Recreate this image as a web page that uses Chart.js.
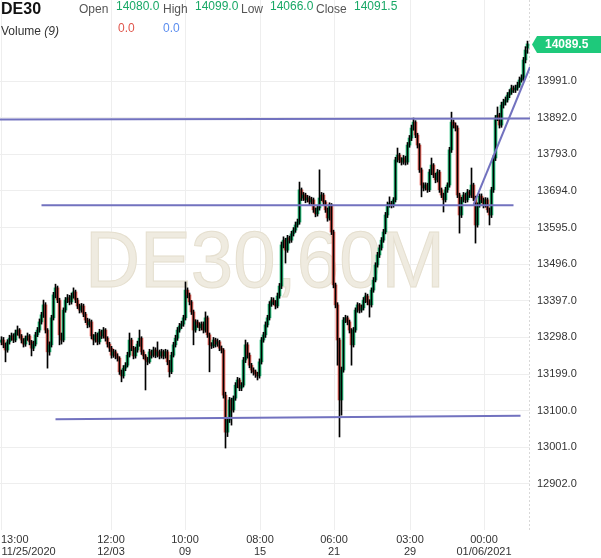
<!DOCTYPE html>
<html>
<head>
<meta charset="utf-8">
<title>DE30 60M</title>
<script src="https://cdn.jsdelivr.net/npm/chart.js@4.4.1/dist/chart.umd.min.js"></script>
<style>
  html, body { margin: 0; padding: 0; background: #fff; }
  #wrap { position: relative; width: 601px; height: 558px; overflow: hidden;
          font-family: Arial, "Liberation Sans", sans-serif; }
  #chart { position: absolute; left: 0; top: 0; }
  .hd { position: absolute; font-size: 12px; line-height: 14px; white-space: nowrap; }
  .lbl { color: #555; }
  .num { color: #18a866; }
</style>
</head>
<body>
<div id="wrap">
  <canvas id="chart" width="601" height="558"></canvas>
  <div class="hd" style="left:1px;top:0px;font-size:16px;line-height:18px;font-weight:bold;color:#111">DE30</div>
  <div class="hd lbl" style="left:79px;top:2px">Open</div>
  <div class="hd num" style="left:116px;top:-1px">14080.0</div>
  <div class="hd lbl" style="left:163px;top:2px">High</div>
  <div class="hd num" style="left:195px;top:-1px">14099.0</div>
  <div class="hd lbl" style="left:241px;top:2px">Low</div>
  <div class="hd num" style="left:270px;top:-1px">14066.0</div>
  <div class="hd lbl" style="left:316px;top:2px">Close</div>
  <div class="hd num" style="left:354px;top:-1px">14091.5</div>
  <div class="hd" style="left:1px;top:24px;color:#333">Volume <i>(9)</i></div>
  <div class="hd" style="left:118px;top:21px;color:#e0564c">0.0</div>
  <div class="hd" style="left:163px;top:21px;color:#5b8def">0.0</div>
</div>

<script>
// ==============================
// DATA (60 min candles, ~2 bars per candle)
// ==============================
const opens = [
  13285,13291,13278,13264,13286,13296,13302,13291,13310,13318,
  13302,13291,13280,13296,13302,13286,13269,13280,13305,13318,
  13340,13359,13386,13318,13259,13278,13351,13413,13432,13399,
  13305,13291,13372,13399,13405,13394,13410,13421,13399,13383,
  13372,13383,13361,13345,13332,13340,13302,13291,13305,13286,
  13313,13302,13318,13296,13280,13269,13250,13259,13248,13242,
  13205,13194,13215,13223,13250,13291,13269,13248,13264,13280,
  13296,13259,13248,13237,13232,13259,13250,13264,13250,13259,
  13248,13259,13248,13259,13232,13205,13250,13278,13296,13318,
  13329,13334,13351,13426,13413,13394,13367,13318,13340,13332,
  13324,13334,13318,13351,13305,13278,13275,13291,13280,13286,
  13269,13264,13142,13042,13075,13129,13102,13134,13169,13183,
  13161,13169,13237,13278,13250,13223,13210,13205,13199,13194,
  13232,13291,13305,13332,13351,13388,13399,13394,13383,13410,
  13437,13548,13561,13534,13567,13561,13578,13588,13602,13610,
  13697,13675,13683,13670,13675,13664,13670,13643,13632,13648,
  13675,13683,13664,13643,13621,13656,13583,13440,13386,13291,
  13129,13210,13345,13351,13340,13318,13278,13318,13372,13386,
  13372,13378,13399,13410,13394,13386,13426,13453,13494,13521,
  13540,13561,13583,13629,13656,13661,13656,13670,13778,13791,
  13778,13772,13783,13772,13818,13837,13864,13880,13845,13818,
  13751,13710,13702,13710,13697,13745,13764,13737,13724,13745,
  13697,13683,13670,13697,13710,13805,13880,13872,13864,13683,
  13629,13670,13683,13670,13691,13683,13710,13675,13602,13656,
  13680,13670,13656,13670,13643,13629,13697,13783,13891,13899,
  13872,13926,13934,13940,13953,13961,13972,13967,13972,13980,
  13994,13999,14048,14080
];
const closes = [
  13291,13278,13264,13286,13296,13302,13291,13310,13318,13302,
  13291,13280,13296,13302,13286,13269,13280,13305,13318,13340,
  13359,13386,13318,13259,13278,13351,13413,13432,13399,13305,
  13291,13372,13399,13405,13394,13410,13421,13399,13383,13372,
  13383,13361,13345,13332,13340,13302,13291,13305,13286,13313,
  13302,13318,13296,13280,13269,13250,13259,13248,13242,13205,
  13194,13215,13223,13250,13291,13269,13248,13264,13280,13296,
  13259,13248,13237,13232,13259,13250,13264,13250,13259,13248,
  13259,13248,13259,13232,13205,13250,13278,13296,13318,13329,
  13334,13351,13426,13413,13394,13367,13318,13340,13332,13324,
  13334,13318,13351,13305,13278,13275,13291,13280,13286,13269,
  13264,13142,13042,13075,13129,13102,13134,13169,13183,13161,
  13169,13237,13278,13250,13223,13210,13205,13199,13194,13232,
  13291,13305,13332,13351,13388,13399,13394,13383,13410,13437,
  13548,13561,13534,13567,13561,13578,13588,13602,13610,13697,
  13675,13683,13670,13675,13664,13670,13643,13632,13648,13675,
  13683,13664,13643,13621,13656,13583,13440,13386,13291,13129,
  13210,13345,13351,13340,13318,13278,13318,13372,13386,13372,
  13378,13399,13410,13394,13386,13426,13453,13494,13521,13540,
  13561,13583,13629,13656,13661,13656,13670,13778,13791,13778,
  13772,13783,13772,13818,13837,13864,13880,13845,13818,13751,
  13710,13702,13710,13697,13745,13764,13737,13724,13745,13697,
  13683,13670,13697,13710,13805,13880,13872,13864,13683,13629,
  13670,13683,13670,13691,13683,13710,13675,13602,13656,13680,
  13670,13656,13670,13643,13629,13697,13783,13891,13899,13872,
  13926,13934,13940,13953,13961,13972,13967,13972,13980,13994,
  13999,14048,14075,14091.5
];
const highs = [
  13300,13298,13283,13292,13304,13310,13308,13318,13329,13322,
  13306,13295,13302,13310,13306,13290,13288,13312,13325,13348,
  13366,13399,13392,13322,13286,13358,13420,13442,13437,13404,
  13310,13378,13406,13414,13412,13418,13432,13426,13404,13388,
  13390,13388,13366,13350,13348,13345,13306,13312,13310,13320,
  13318,13325,13322,13300,13285,13274,13266,13264,13254,13246,
  13210,13222,13230,13258,13310,13296,13274,13272,13288,13318,
  13300,13264,13252,13244,13266,13264,13272,13270,13286,13264,
  13266,13264,13266,13264,13236,13258,13285,13304,13325,13336,
  13342,13358,13448,13432,13418,13398,13372,13346,13345,13338,
  13340,13340,13367,13356,13310,13284,13298,13296,13294,13290,
  13275,13268,13150,13082,13136,13134,13140,13176,13190,13188,
  13176,13244,13291,13284,13256,13228,13216,13210,13204,13240,
  13298,13312,13340,13358,13395,13406,13405,13398,13418,13444,
  13556,13570,13566,13574,13572,13585,13595,13610,13618,13718,
  13702,13690,13688,13682,13680,13677,13675,13648,13655,13751,
  13690,13688,13668,13648,13662,13660,13588,13445,13392,13296,
  13218,13352,13358,13356,13345,13322,13325,13378,13392,13390,
  13386,13406,13418,13415,13400,13432,13460,13500,13528,13548,
  13568,13590,13636,13664,13678,13666,13676,13785,13810,13796,
  13784,13790,13788,13825,13844,13872,13891,13884,13850,13822,
  13756,13716,13716,13715,13752,13783,13768,13742,13752,13750,
  13702,13688,13704,13716,13812,13907,13886,13878,13870,13688,
  13677,13690,13688,13698,13696,13756,13715,13680,13662,13686,
  13686,13675,13676,13675,13648,13704,13790,13898,13921,13904,
  13934,13942,13948,13960,13968,13980,13978,13980,13988,14002,
  14008,14055,14084,14099
];
const lows = [
  13278,13270,13232,13258,13280,13290,13284,13286,13304,13296,
  13283,13272,13274,13290,13278,13248,13262,13275,13300,13312,
  13334,13352,13310,13215,13250,13272,13345,13405,13392,13278,
  13280,13286,13366,13392,13386,13388,13404,13392,13376,13364,
  13366,13354,13338,13324,13326,13294,13278,13285,13278,13280,
  13295,13296,13288,13272,13260,13242,13244,13240,13234,13198,
  13178,13188,13208,13218,13245,13262,13240,13242,13258,13274,
  13252,13240,13156,13224,13228,13242,13245,13243,13245,13240,
  13242,13240,13242,13224,13191,13200,13245,13272,13290,13312,
  13322,13328,13345,13405,13386,13360,13278,13312,13325,13316,
  13318,13310,13312,13298,13205,13268,13270,13272,13274,13262,
  13256,13134,12999,13030,13068,13061,13096,13128,13162,13154,
  13154,13164,13230,13242,13216,13202,13196,13190,13183,13188,
  13226,13285,13298,13326,13345,13382,13386,13375,13378,13404,
  13430,13540,13499,13528,13553,13555,13572,13582,13596,13604,
  13668,13668,13662,13664,13656,13658,13636,13624,13626,13642,
  13668,13656,13636,13612,13615,13576,13432,13378,13223,13029,
  13088,13204,13338,13332,13310,13223,13272,13312,13366,13364,
  13366,13372,13392,13386,13353,13380,13420,13448,13488,13514,
  13534,13555,13578,13622,13650,13648,13650,13664,13772,13770,
  13764,13766,13764,13766,13812,13830,13858,13838,13810,13744,
  13678,13694,13696,13690,13692,13738,13730,13716,13718,13690,
  13676,13637,13664,13690,13704,13798,13864,13856,13676,13580,
  13622,13664,13662,13664,13676,13676,13668,13553,13596,13650,
  13662,13648,13650,13636,13602,13622,13690,13776,13884,13864,
  13866,13918,13926,13934,13946,13955,13960,13960,13966,13974,
  13988,13992,14040,14066
];

// drawn support / resistance lines: [startIndex, endIndex], [startPrice, endPrice]
const trendLines = [
  { idx: [-0.75, 264.25], price: [13887, 13890] },
  { idx: [20, 256],       price: [13655, 13655] },
  { idx: [27, 259.5],     price: [13077, 13086] },
  { idx: [236, 264.25],   price: [13656, 14029] }
];

// axis ticks
const xTickIdx  = [-0.25, 13.5, 54.75, 91.75, 129.25, 166.25, 204.25, 241.25];
const xTickTime = ["", "13:00         ", "12:00", "10:00", "08:00", "06:00", "03:00", "00:00"];
const xTickDate = ["", "11/25/2020", "12/03", "09", "15", "21", "29", "01/06/2021"];
const yTicks = [12902, 13001, 13100, 13199, 13298, 13397, 13496, 13595, 13694, 13793, 13892, 13991];
const lastPrice = 14089.5;
const symbolText = "DE30,60M";

// ==============================
// COLOURS
// ==============================
const UP = "#1fc27a";
const DOWN = "#f0665b";
const LINE = "#7272bf";
const GRID = "#eeeeee";
const AXIS_FONT = { family: "Arial, 'Liberation Sans', sans-serif", size: 11 };

// ==============================
// DATASETS
// ==============================
const bodies = opens.map((o, i) => ({ x: i, y: [o, closes[i]] }));
const wicks = lows.map((l, i) => ({ x: i, y: [l, highs[i]] }));
const bodyColors = opens.map((o, i) => closes[i] >= o ? UP : DOWN);

const lineSets = trendLines.map(t => ({
  type: "line",
  data: [{ x: t.idx[0], y: t.price[0] }, { x: t.idx[1], y: t.price[1] }],
  borderColor: LINE,
  borderWidth: 2,
  pointRadius: 0,
  order: 0
}));

// watermark behind candles
const watermark = {
  id: "watermark",
  beforeDatasetsDraw(chart) {
    const { ctx, chartArea } = chart;
    ctx.save();
    ctx.font = "80px Arial, 'Liberation Sans', sans-serif";
    ctx.textAlign = "center";
    ctx.textBaseline = "alphabetic";
    ctx.fillStyle = "#efebe0";
    ctx.strokeStyle = "#e5dfcf";
    ctx.lineWidth = 1;
    const cx = (chartArea.left + chartArea.right) / 2;
    const cy = (chartArea.top + chartArea.bottom) / 2 + 22;
    ctx.fillText(symbolText, cx, cy, 360);
    ctx.strokeText(symbolText, cx, cy, 360);
    // dotted border between plot and price axis
    ctx.strokeStyle = "#d8d8d8";
    ctx.setLineDash([2, 2]);
    ctx.beginPath();
    ctx.moveTo(chartArea.right - 0.5, chartArea.top);
    ctx.lineTo(chartArea.right - 0.5, chartArea.bottom);
    ctx.stroke();
    ctx.restore();
  }
};

// last price tag on the price axis
const priceTag = {
  id: "priceTag",
  afterDraw(chart) {
    const { ctx, chartArea, scales } = chart;
    const y = scales.y.getPixelForValue(lastPrice);
    const x0 = chartArea.right + 2;
    ctx.save();
    ctx.fillStyle = "#1ec97b";
    ctx.beginPath();
    ctx.moveTo(x0, y);
    ctx.lineTo(x0 + 5, y - 8.5);
    ctx.lineTo(chart.width, y - 8.5);
    ctx.lineTo(chart.width, y + 8.5);
    ctx.lineTo(x0 + 5, y + 8.5);
    ctx.closePath();
    ctx.fill();
    ctx.fillStyle = "#fff";
    ctx.font = "bold 12px Arial, 'Liberation Sans', sans-serif";
    ctx.textBaseline = "middle";
    ctx.fillText(lastPrice.toFixed(1), x0 + 13, y + 0.5);
    ctx.restore();
  }
};

// ==============================
// CHART
// ==============================
const chart = new Chart(document.getElementById("chart"), {
  data: {
    datasets: [
      ...lineSets,
      { type: "bar", data: wicks, backgroundColor: "#000", barThickness: 1, grouped: false, order: 1 },
      { type: "bar", data: bodies, backgroundColor: bodyColors, barThickness: 3, grouped: false, order: 2 }
    ]
  },
  options: {
    responsive: false,
    animation: false,
    devicePixelRatio: 1,
    layout: { padding: 0 },
    plugins: { legend: { display: false }, tooltip: { enabled: false } },
    scales: {
      x: {
        type: "linear",
        offset: false,
        min: -0.75,
        max: 264.25,
        afterBuildTicks: s => { s.ticks = xTickIdx.map(v => ({ value: v })); },
        afterFit: s => { s.height = 28; s.paddingLeft = 0; s.paddingRight = 0; },
        grid: {
          offset: false,
          color: c => (c.index === 1 ? "rgba(0,0,0,0)" : GRID),
          drawTicks: false
        },
        border: { display: false },
        ticks: {
          autoSkip: false,
          maxRotation: 0,
          padding: 4,
          color: "#333",
          font: { ...AXIS_FONT, lineHeight: 12 / 11 },
          callback: (v, i) => [xTickTime[i], xTickDate[i]]
        }
      },
      y: {
        position: "right",
        min: 12777.5,
        max: 14210.1,
        afterBuildTicks: s => { s.ticks = yTicks.map(v => ({ value: v })); },
        afterFit: s => { s.width = 71; s.paddingTop = 0; s.paddingBottom = 0; },
        grid: { color: GRID, drawTicks: false },
        border: { display: false },
        ticks: {
          padding: 7,
          color: "#333",
          font: AXIS_FONT,
          callback: v => v.toFixed(1)
        }
      }
    }
  },
  plugins: [watermark, priceTag]
});
</script>
</body>
</html>
